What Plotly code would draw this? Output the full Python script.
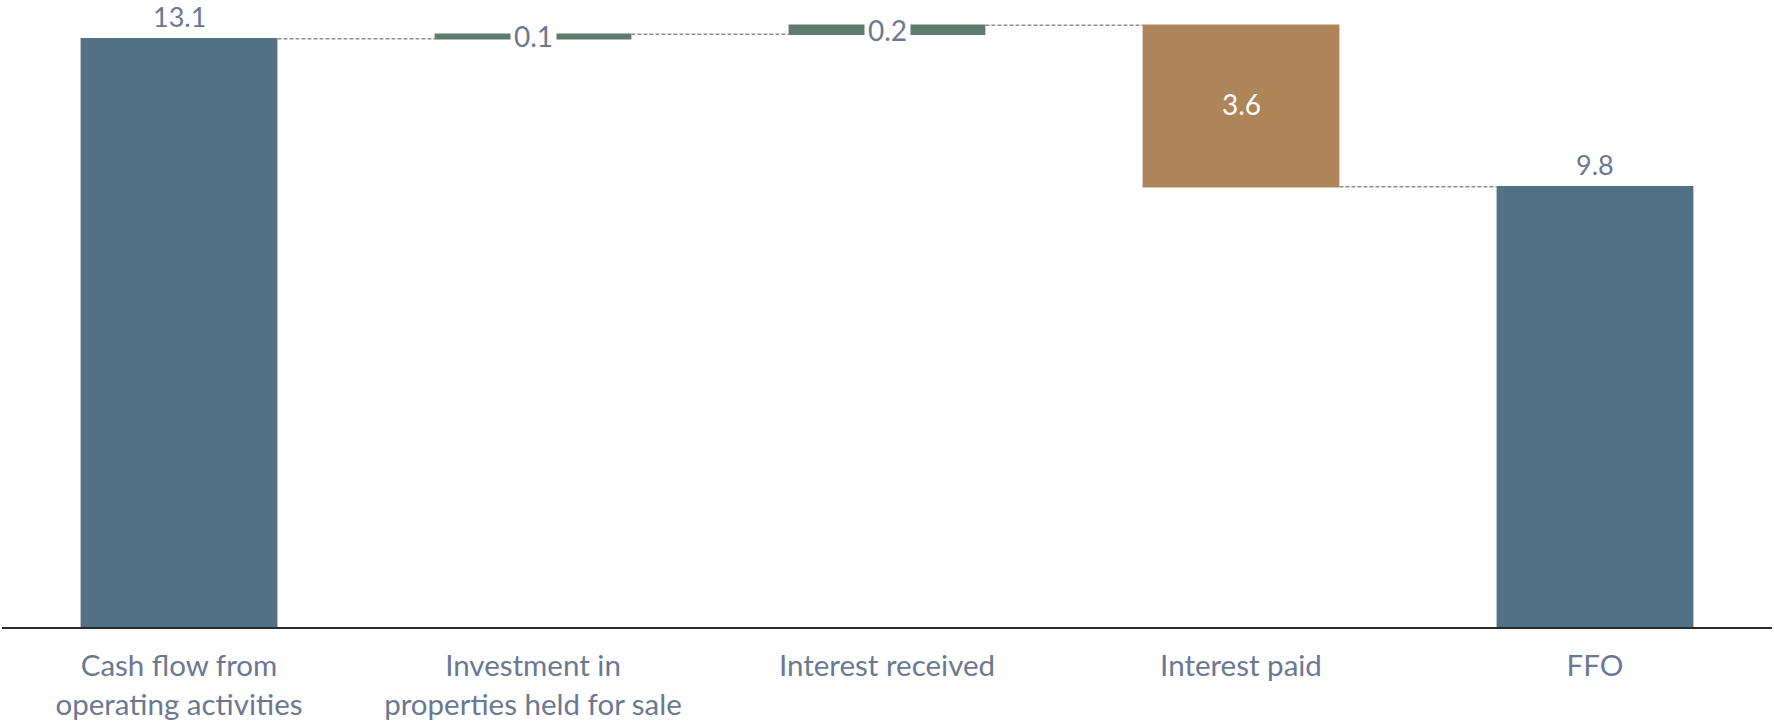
import plotly.graph_objects as go

# FFO bridge (EUR m)
categories = [
    "Cash flow from<br>operating activities",
    "Investment in<br>properties held for sale",
    "Interest received",
    "Interest paid",
    "FFO",
]
measures = ["absolute", "relative", "relative", "relative", "total"]
values = [13.1, 0.1, 0.2, -3.6, 9.8]
labels = ["13.1", "0.1", "0.2", "3.6", "9.8"]

TOTAL_COLOR = "#527185"
UP_COLOR = "#5f7a6f"
DOWN_COLOR = "#ae8459"
TEXT_COLOR = "#6b7893"
FONT = "Lato"

fig = go.Figure(
    go.Waterfall(
        x=categories,
        y=values,
        measure=measures,
        width=0.556,
        totals=dict(marker=dict(color=TOTAL_COLOR, line=dict(width=0))),
        increasing=dict(marker=dict(color=UP_COLOR, line=dict(width=0))),
        decreasing=dict(marker=dict(color=DOWN_COLOR, line=dict(width=0))),
        connector=dict(mode="between", line=dict(color="#8f8f8f", width=1.5, dash="4px,2px")),
        hoverinfo="skip",
    )
)

# running level after each step, used to place the value labels
ends = []
level = 0.0
for m, v in zip(measures, values):
    if m == "absolute":
        level = v
    elif m == "relative":
        level += v
    ends.append(level)
starts = [0.0] + ends[:-1]

for i, (cat, m, v, lab) in enumerate(zip(categories, measures, values, labels)):
    if m in ("absolute", "total"):
        # value above the bar
        fig.add_annotation(x=cat, y=ends[i], text=lab, showarrow=False,
                           yanchor="bottom", yshift=5, borderpad=0,
                           font=dict(family=FONT, size=27, color=TEXT_COLOR))
    elif abs(v) < 1:
        # small step: label sits on the bar with a white backing
        mid = starts[i] + v / 2
        fig.add_annotation(x=cat, y=mid, text=lab, showarrow=False,
                           yanchor="middle", bgcolor="white", borderpad=3,
                           font=dict(family=FONT, size=28, color=TEXT_COLOR))
    else:
        mid = starts[i] + v / 2
        fig.add_annotation(x=cat, y=mid, text=lab, showarrow=False,
                           yanchor="middle", yshift=2,
                           font=dict(family=FONT, size=28, color="white"))

fig.update_layout(
    width=1774,
    height=723,
    margin=dict(l=2, r=2, t=0, b=96),
    paper_bgcolor="white",
    plot_bgcolor="white",
    showlegend=False,
    font=dict(family=FONT, size=29.5, color=TEXT_COLOR),
    xaxis=dict(
        showgrid=False,
        zeroline=False,
        showline=True,
        linecolor="#2b2b2b",
        linewidth=2,
        ticks="",
        ticklabelstandoff=12,
        tickfont=dict(family=FONT, size=29.5, color=TEXT_COLOR),
        fixedrange=True,
    ),
    yaxis=dict(
        range=[0, 13.96],
        visible=False,
        showgrid=False,
        zeroline=False,
        fixedrange=True,
    ),
    hovermode=False,
)

fig.write_html("out.html", config={"displayModeBar": False})
